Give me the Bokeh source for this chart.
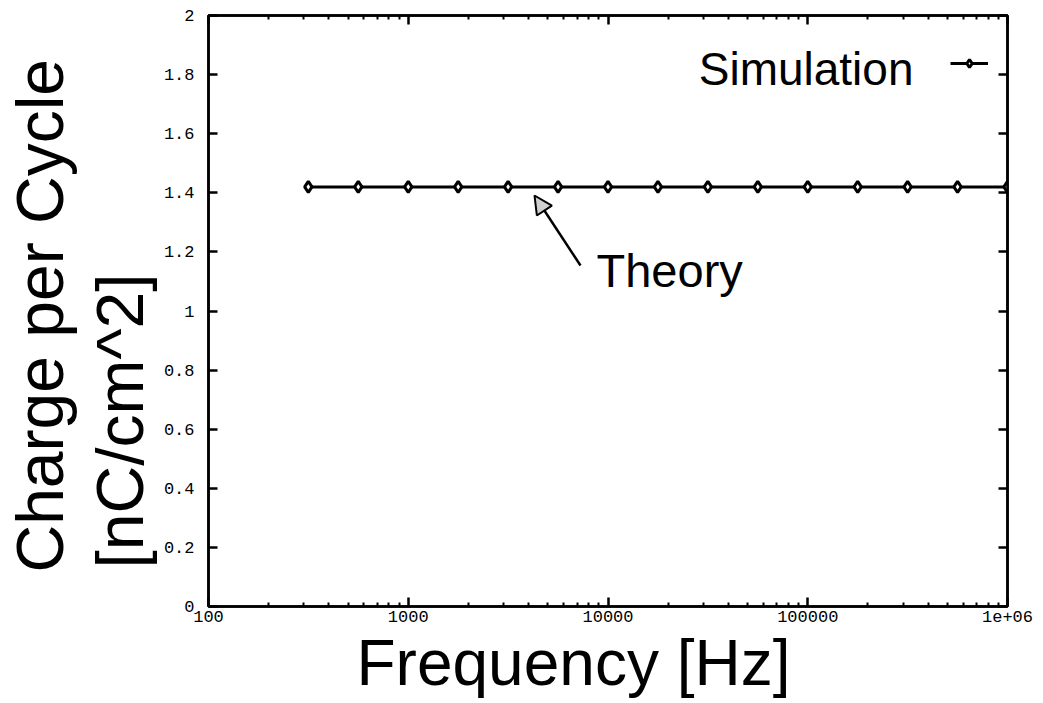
from bokeh.plotting import figure
from bokeh.models import (LogAxis, LinearAxis, FixedTicker, Label, Arrow, NormalHead,
                          Legend, LegendItem, Range1d, CustomJSTickFormatter, Title)
from bokeh.embed import file_html
from bokeh.resources import INLINE

# ---------------- data ----------------
freq_hz = [316, 562, 1000, 1778, 3162, 5623, 10000, 17783, 31623, 56234,
           100000, 177828, 316228, 562341, 1000000]
charge = [1.42, 1.42, 1.42, 1.42, 1.42, 1.42, 1.42, 1.42, 1.42, 1.42,
          1.42, 1.42, 1.42, 1.42, 1.42]

x_tick_values = [100, 1000, 10000, 100000, 1000000]
x_tick_labels = ["100", "1000", "10000", "100000", "1e+06"]
y_tick_values = [0, 0.2, 0.4, 0.6, 0.8, 1, 1.2, 1.4, 1.6, 1.8, 2]
y_tick_labels = ["0", "0.2", "0.4", "0.6", "0.8", "1", "1.2", "1.4", "1.6", "1.8", "2"]

series_label = "Simulation"
annotation_text = "Theory"
x_label = "Frequency [Hz]"
y_label_lines = ["Charge per Cycle", "[nC/cm^2]"]

# ---------------- layout ----------------
W, H = 1043, 703
FL, FR, FT, FB = 208, 1007, 15, 606
DEC_PX = (FR - FL) / 4.0
FH = FB - FT


def px_to_x(px):
    return 10 ** (2 + (px - FL) / DEC_PX)


def py_to_y(py):
    return (FB - py) / FH * 2.0


SANS = "Liberation Sans"
MONO = "Liberation Mono"

p = figure(width=W, height=H, x_axis_type="log",
           x_range=Range1d(100, 1e6), y_range=Range1d(0, 2),
           output_backend="svg", toolbar_location=None,
           min_border_left=FL, min_border_right=W - FR,
           min_border_top=FT, min_border_bottom=H - FB)
p.grid.visible = False
p.outline_line_color = "black"
p.outline_line_width = 2.5
p.background_fill_color = "white"
p.border_fill_color = "white"

minor_x = [m * d for d in [100, 1000, 10000, 100000] for m in range(2, 10)]
empty_fmt = CustomJSTickFormatter(code="return ''")


def style_axis(ax):
    ax.axis_line_color = "black"
    ax.axis_line_width = 2.5
    ax.major_tick_line_color = "black"
    ax.major_tick_line_width = 2.5
    ax.major_tick_in = 9
    ax.major_tick_out = 0
    ax.minor_tick_line_color = "black"
    ax.minor_tick_line_width = 2
    ax.minor_tick_in = 4
    ax.minor_tick_out = 0
    ax.major_label_text_font = MONO
    ax.major_label_text_font_size = "17px"
    ax.major_label_text_color = "black"


# bottom x axis
xa = p.xaxis[0]
xa.ticker = FixedTicker(ticks=x_tick_values, minor_ticks=minor_x)
xa.major_label_overrides = {v: l for v, l in zip(x_tick_values, x_tick_labels)}
style_axis(xa)
xa.major_label_standoff = 4

# left y axis
ya = p.yaxis[0]
ya.ticker = FixedTicker(ticks=y_tick_values)
ya.major_label_overrides = {v: l for v, l in zip(y_tick_values, y_tick_labels)}
style_axis(ya)
ya.minor_tick_line_color = None
ya.major_label_standoff = 14

# mirrored axes
top = LogAxis(ticker=FixedTicker(ticks=x_tick_values, minor_ticks=minor_x), formatter=empty_fmt)
style_axis(top)
p.add_layout(top, "above")
right = LinearAxis(ticker=FixedTicker(ticks=y_tick_values), formatter=empty_fmt)
style_axis(right)
right.minor_tick_line_color = None
p.add_layout(right, "right")

# axis titles (outside the frame)
p.add_layout(Title(text=x_label, align="left", offset=148, standoff=0,
                   text_font=SANS, text_font_size="64px", text_font_style="normal",
                   text_color="black"), "below")
p.add_layout(Title(text=y_label_lines[1], align="left", offset=38, standoff=8,
                   text_font=SANS, text_font_size="66px", text_font_style="normal",
                   text_color="black"), "left")
p.add_layout(Title(text=y_label_lines[0], align="left", offset=34, standoff=0,
                   text_font=SANS, text_font_size="66px", text_font_style="normal",
                   text_color="black"), "left")

# data
line_r = p.line(freq_hz, charge, line_color="black", line_width=3)
pts_r = p.scatter(freq_hz, charge, marker="diamond", size=11, line_color="black",
                  line_width=3, fill_color="white")

# legend (glyph only; text drawn as label to its left)
leg = Legend(items=[LegendItem(label=" ", renderers=[line_r, pts_r])],
             location=(742, 533), padding=0, margin=0, spacing=0,
             glyph_width=38, glyph_height=20, label_standoff=0,
             label_width=0, label_height=20, label_text_font_size="4px",
             border_line_color=None, background_fill_alpha=0)
p.add_layout(leg)

p.add_layout(Label(x=px_to_x(913), y=py_to_y(68), text=series_label,
                   text_align="right", text_baseline="middle",
                   text_font=SANS, text_font_size="46px", text_color="black"))

# theory annotation
p.add_layout(Label(x=px_to_x(596), y=py_to_y(270), text=annotation_text,
                   text_align="left", text_baseline="middle",
                   text_font=SANS, text_font_size="47px", text_color="black"))
p.add_layout(Arrow(end=NormalHead(size=18, fill_color="#d0d0d0", line_color="black", line_width=2),
                   x_start=px_to_x(580), y_start=py_to_y(265),
                   x_end=px_to_x(534), y_end=py_to_y(195),
                   line_color="black", line_width=2.5))

open("out.html", "w").write(file_html(p, INLINE))
